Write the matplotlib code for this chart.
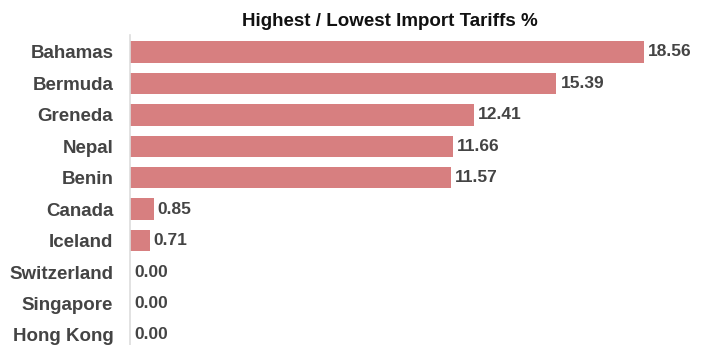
import matplotlib.pyplot as plt

countries = ['Bahamas', 'Bermuda', 'Greneda', 'Nepal', 'Benin',
             'Canada', 'Iceland', 'Switzerland', 'Singapore', 'Hong Kong']
tariffs = [18.56, 15.39, 12.41, 11.66, 11.57, 0.85, 0.71, 0.00, 0.00, 0.00]

plt.rcParams['font.family'] = ['Liberation Sans', 'DejaVu Sans']

fig = plt.figure(figsize=(7.04, 3.45), dpi=100)
ax = fig.add_axes([130 / 704, 0, 574 / 704, 310 / 345])

ypos = list(range(len(countries)))
ax.barh(ypos, tariffs, height=0.68, color='#d77f80')
for y, v in zip(ypos, tariffs):
    ax.text(v + 0.15, y, f'{v:.2f}', va='center', ha='left',
            fontsize=12.5, fontweight='bold', color='#444444')

ax.set_yticks(ypos)
ax.set_yticklabels(countries, fontsize=13.5, fontweight='bold', color='#444444')
ax.tick_params(axis='y', length=0, pad=12)
ax.set_xticks([])
ax.set_xlim(0, 20.72)
ax.set_ylim(9.32, -0.54)
for s in ['top', 'right', 'bottom']:
    ax.spines[s].set_visible(False)
ax.spines['left'].set_color('#dddddd')
ax.spines['left'].set_linewidth(1.2)

fig.text(390 / 704, 1 - 22 / 345, 'Highest / Lowest Import Tariffs %', ha='center',
         va='center', fontsize=13.5, fontweight='bold', color='#111111')

fig.savefig('out.png', dpi=100)
